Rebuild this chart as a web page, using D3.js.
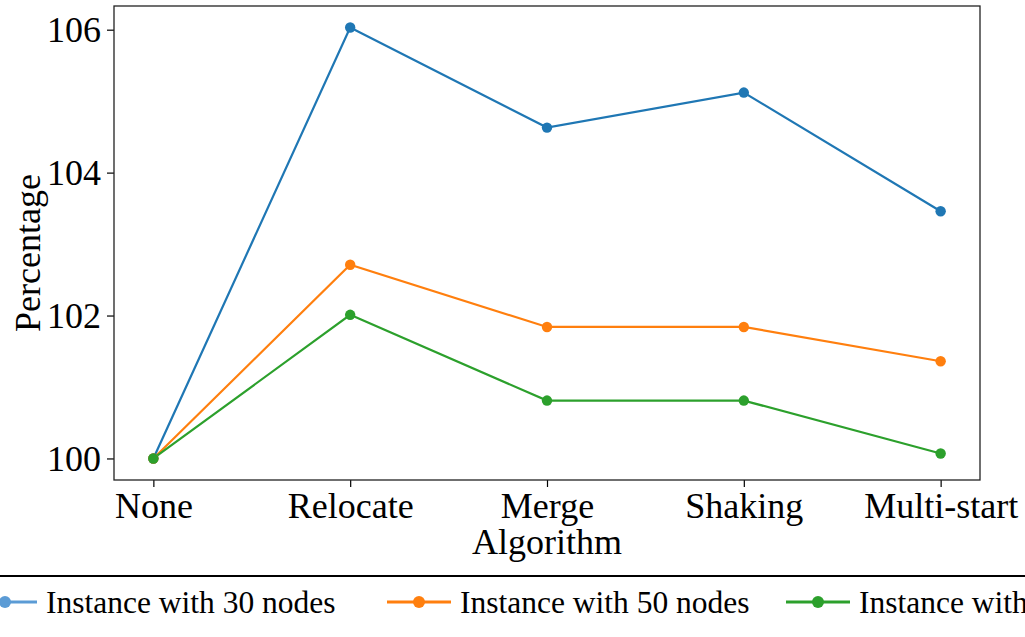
<!DOCTYPE html>
<html><head><meta charset="utf-8">
<script src="https://cdn.jsdelivr.net/npm/d3@7"></script>
<style>body{margin:0;background:#fff;}svg{display:block;}</style>
</head><body>
<svg id="c" width="1025" height="637"></svg>
<script>
const categories = ["None", "Relocate", "Merge", "Shaking", "Multi-start"];
const series30 = [100, 106.03, 104.63, 105.12, 103.46];
const series50 = [100, 102.71, 101.84, 101.84, 101.36];
const series70 = [100, 102.01, 100.81, 100.81, 100.07];
const seriesNames = ["Instance with 30 nodes", "Instance with 50 nodes", "Instance with 70 nodes"];
const yTicks = [100, 102, 104, 106];

const colors = ["#1f77b4", "#ff7f0e", "#2ca02c"];
const legendColors = ["#5b9bd5", "#ff7f0e", "#2ca02c"];
const allSeries = [series30, series50, series70];

const svg = d3.select("#c");
const L = 114, R = 980, T = 6, B = 480;
const font = "'Liberation Serif', 'Times New Roman', serif";

const x = d3.scaleLinear().domain([-0.2, categories.length - 1 + 0.2]).range([L, R]);
const all = allSeries.flat();
const mn = d3.min(all), mx = d3.max(all), pad = (mx - mn) * 0.05;
const y = d3.scaleLinear().domain([mn - pad, mx + pad]).range([B, T]);

const xAxis = d3.axisBottom(x).tickValues(d3.range(categories.length)).tickFormat(i => categories[i]).tickSizeOuter(0).tickSize(7).tickPadding(6);
const yAxis = d3.axisLeft(y).tickValues(yTicks).tickFormat(d3.format("d")).tickSizeOuter(0).tickSize(7).tickPadding(6);

const gx = svg.append("g").attr("transform", `translate(0,${B})`).call(xAxis);
const gy = svg.append("g").attr("transform", `translate(${L},0)`).call(yAxis);
[gx, gy].forEach(g => {
  g.select(".domain").remove();
  g.selectAll(".tick line").attr("stroke", "#000").attr("stroke-width", 1.2);
  g.selectAll(".tick text").attr("font-family", font).attr("font-size", 36).attr("fill", "#000");
});
gy.selectAll(".tick text").attr("dy", "0.33em");
gx.selectAll(".tick text").attr("dy", "0.7em");

svg.append("rect").attr("x", L).attr("y", T).attr("width", R - L).attr("height", B - T)
  .attr("fill", "none").attr("stroke", "#222").attr("stroke-width", 1.3);

svg.append("text").attr("x", (L + R) / 2).attr("y", 554).attr("text-anchor", "middle")
  .attr("font-family", font).attr("font-size", 36).text("Algorithm");
svg.append("text").attr("transform", `translate(40,${(T + B) / 2 + 10}) rotate(-90)`).attr("text-anchor", "middle")
  .attr("font-family", font).attr("font-size", 36).text("Percentage");

const line = d3.line().x((d, i) => x(i)).y(d => y(d));
allSeries.forEach((s, k) => {
  svg.append("path").datum(s).attr("d", line).attr("fill", "none")
    .attr("stroke", colors[k]).attr("stroke-width", 2.2);
});
allSeries.forEach((s, k) => {
  svg.append("g").selectAll("circle").data(s).join("circle")
    .attr("cx", (d, i) => x(i)).attr("cy", d => y(d)).attr("r", 5.2).attr("fill", colors[k]);
});

svg.append("line").attr("x1", 0).attr("x2", 1025).attr("y1", 576).attr("y2", 576)
  .attr("stroke", "#000").attr("stroke-width", 2);
const legendTextX = [46, 460, 859];
seriesNames.forEach((name, k) => {
  const tx = legendTextX[k];
  const x1 = tx - 73, x2 = tx - 9;
  svg.append("line").attr("x1", x1).attr("x2", x2).attr("y1", 602).attr("y2", 602)
    .attr("stroke", legendColors[k]).attr("stroke-width", 3);
  svg.append("circle").attr("cx", (x1 + x2) / 2).attr("cy", 602).attr("r", 6).attr("fill", legendColors[k]);
  svg.append("text").attr("x", tx).attr("y", 613).attr("font-family", font).attr("font-size", 31.5)
    .attr("fill", "#000").text(name);
});
</script>
</body></html>
